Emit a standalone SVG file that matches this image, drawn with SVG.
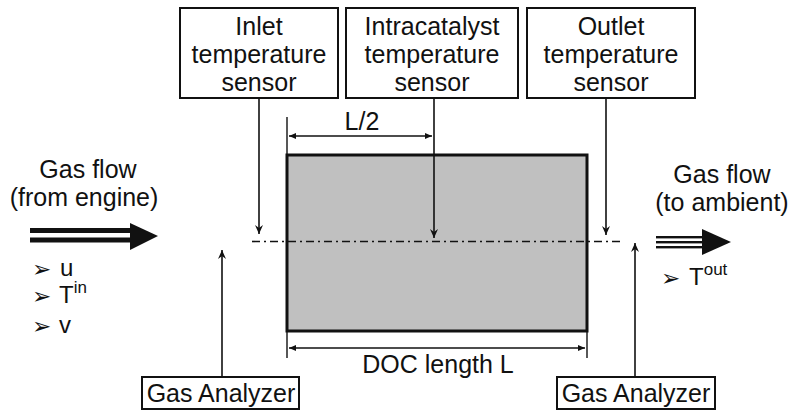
<svg xmlns="http://www.w3.org/2000/svg" width="790" height="410" viewBox="0 0 790 410">
<style>
text{font-family:"Liberation Sans",Arial,sans-serif;fill:#111;}
.t{font-size:25px;text-anchor:middle;}
.box{fill:#fff;stroke:#111;stroke-width:2;}
.ln{stroke:#111;stroke-width:1.6;fill:none;}
.dim{stroke:#111;stroke-width:1.4;fill:none;}
.b{font-size:24px;}
.bul{font-family:"DejaVu Sans",sans-serif;font-size:23px;}
</style>
<defs>
<marker id="ah" markerWidth="10" markerHeight="10" refX="9" refY="5" orient="auto" markerUnits="userSpaceOnUse">
<path d="M0,1 L9,5 L0,9 L3,5 Z" fill="#111"/>
</marker>
<marker id="dh" markerWidth="8" markerHeight="8" refX="7" refY="4" orient="auto-start-reverse" markerUnits="userSpaceOnUse">
<path d="M0,1 L7,4 L0,7 Z" fill="#111"/>
</marker>
</defs>

<g id="doc">
<rect x="287" y="155" width="300" height="176" fill="#c0c0c0" stroke="#111" stroke-width="3"/>
</g>

<g id="inlet-sensor">
<rect class="box" x="180" y="8" width="158" height="90"/>
<text class="t" x="259" y="35">Inlet</text>
<text class="t" x="259" y="63">temperature</text>
<text class="t" x="259" y="91">sensor</text>
</g>
<g id="intra-sensor">
<rect class="box" x="346" y="8" width="172" height="90"/>
<text class="t" x="432" y="35">Intracatalyst</text>
<text class="t" x="432" y="63">temperature</text>
<text class="t" x="432" y="91">sensor</text>
</g>
<g id="outlet-sensor">
<rect class="box" x="527" y="8" width="168" height="90"/>
<text class="t" x="611" y="35">Outlet</text>
<text class="t" x="611" y="63">temperature</text>
<text class="t" x="611" y="91">sensor</text>
</g>

<g id="gas-analyzer-in">
<rect class="box" x="142" y="377" width="157" height="32"/>
<text class="t" x="221" y="402">Gas Analyzer</text>
</g>
<g id="gas-analyzer-out">
<rect class="box" x="557" y="377" width="158" height="32"/>
<text class="t" x="636" y="402">Gas Analyzer</text>
</g>

<g id="connectors">
<line class="ln" x1="259" y1="98" x2="259" y2="234" marker-end="url(#ah)"/>
<line class="ln" x1="434" y1="98" x2="434" y2="238" marker-end="url(#ah)"/>
<line class="ln" x1="606" y1="98" x2="606" y2="235" marker-end="url(#ah)"/>
<line class="ln" x1="222" y1="377" x2="222" y2="250" marker-end="url(#ah)"/>
<line class="ln" x1="635" y1="377" x2="635" y2="243" marker-end="url(#ah)"/>
<line x1="252" y1="241.5" x2="622" y2="241.5" stroke="#111" stroke-width="1.6" stroke-dasharray="8,4,2,4"/>
<!-- L/2 dimension -->
<line class="dim" x1="287" y1="117" x2="287" y2="155"/>
<line class="dim" x1="289" y1="136" x2="432" y2="136" marker-start="url(#dh)" marker-end="url(#dh)"/>
<!-- DOC length dimension -->
<line class="dim" x1="287" y1="331" x2="287" y2="358"/>
<line class="dim" x1="587" y1="331" x2="587" y2="358"/>
<line class="dim" x1="289" y1="348" x2="585" y2="348" marker-start="url(#dh)" marker-end="url(#dh)"/>
<!-- inflow arrow -->
<rect x="30" y="228" width="102" height="5" fill="#111"/>
<rect x="30" y="237.5" width="102" height="5" fill="#111"/>
<path d="M130,223 L158,236 L130,250 Z" fill="#111"/>
<!-- outflow arrow -->
<rect x="656" y="236" width="48" height="2.4" fill="#111"/>
<rect x="656" y="241" width="48" height="2.4" fill="#111"/>
<rect x="656" y="246" width="48" height="2.4" fill="#111"/>
<path d="M702,229 L731,242 L702,255 Z" fill="#111"/>
</g>

<g id="labels">
<text class="t" x="362" y="130">L/2</text>
<text class="t" x="438" y="373">DOC length L</text>
<text class="t" x="88" y="178">Gas flow</text>
<text class="t" x="84" y="206">(from engine)</text>
<text class="t" x="722" y="183">Gas flow</text>
<text class="t" x="722" y="211">(to ambient)</text>
<text class="bul" x="32" y="277">➢</text>
<text class="b" x="60" y="276">u</text>
<text class="bul" x="32" y="304">➢</text>
<text class="b" x="59" y="303">T<tspan font-size="17" dy="-10">in</tspan></text>
<text class="bul" x="32" y="334">➢</text>
<text class="b" x="59" y="333">v</text>
<text class="bul" x="661" y="286">➢</text>
<text class="b" x="689" y="285">T<tspan font-size="17" dy="-10">out</tspan></text>
</g>
</svg>
